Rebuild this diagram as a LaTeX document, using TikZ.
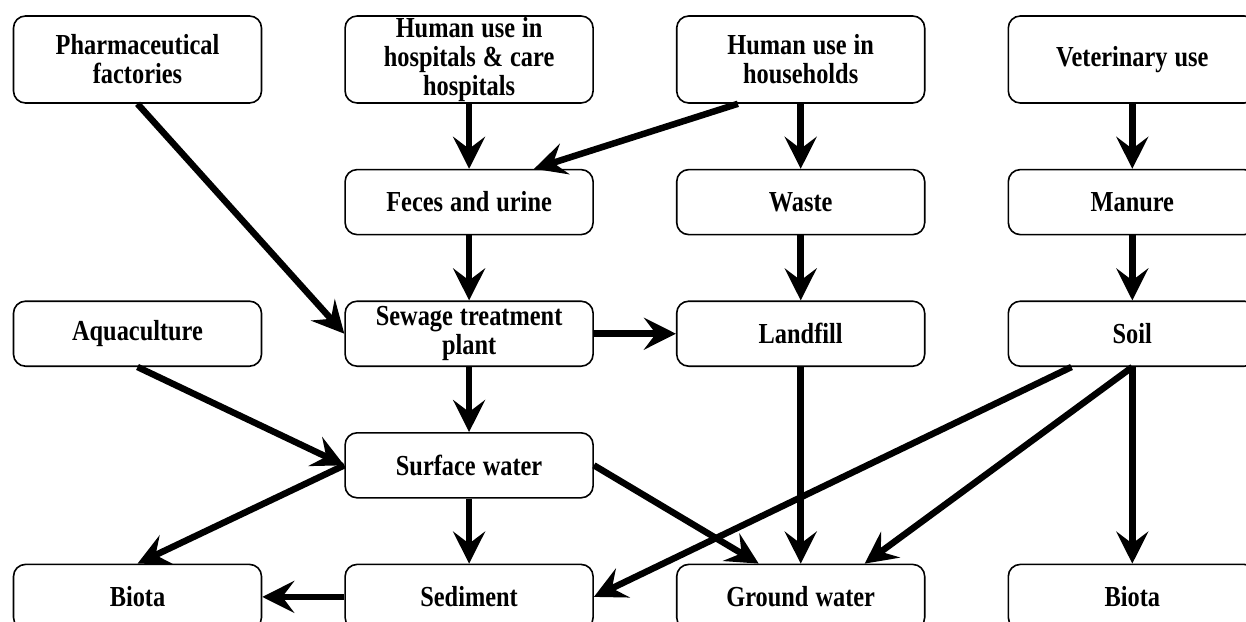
\documentclass[tikz,border=0pt]{standalone}
\usepackage{fontspec}
\setmainfont{Liberation Serif}[FakeStretch=0.84]
\usetikzlibrary{arrows.meta, positioning}

\begin{document}
\begin{tikzpicture}[x=1pt, y=-1pt, font=\fontsize{29}{29}\selectfont\bfseries,
		node distance=65pt and 82pt,
		box/.style={draw, line width=1.6pt, rounded corners=12pt,
		            text width=240pt, inner xsep=4pt, inner ysep=1pt,
		            minimum height=65pt, align=center,
		            execute at begin node={\spaceskip=7pt\relax}},
		topbox/.style={box, minimum height=87pt},
		arr/.style={-{Stealth[length=32pt, width=32pt, inset=12pt]}, line width=6.5pt}]
		\useasboundingbox (0,0) rectangle (1246,621);
		% sources
		\node[topbox] (pharma) at (137.5,59.5) {Pharmaceutical\\factories};
		\node[topbox, right=of pharma] (hosp) {Human use in\\hospitals \& care\\hospitals};
		\node[topbox, right=of hosp] (house) {Human use in\\households};
		\node[topbox, right=of house] (vet) {Veterinary use};
		% intermediate
		\node[box, below=of hosp] (feces) {Feces and urine};
		\node[box, below=of house] (waste) {Waste};
		\node[box, below=of vet] (manure) {Manure};
		\node[box, below=of feces] (sewage) {Sewage treatment\\plant};
		\node[box, left=of sewage] (aqua) {Aquaculture};
		\node[box, below=of waste] (landfill) {Landfill};
		\node[box, below=of manure] (soil) {Soil};
		\node[box, below=of sewage] (surface) {Surface water};
		% sinks
		\node[box, below=of surface] (sediment) {Sediment};
		\node[box, left=of sediment] (biota) {Biota};
		\node[box, right=of sediment] (ground) {Ground water};
		\node[box, right=of ground] (biotb) {Biota};
		\draw[arr] (pharma.south) -- (sewage.west);
		\draw[arr] (hosp) -- (feces);
		\draw[arr] ([xshift=62pt]house.south west) -- ([xshift=65pt]feces.north);
		\draw[arr] (house) -- (waste);
		\draw[arr] (vet) -- (manure);
		\draw[arr] (feces) -- (sewage);
		\draw[arr] (waste) -- (landfill);
		\draw[arr] (manure) -- (soil);
		\draw[arr] (sewage) -- (landfill);
		\draw[arr] (sewage) -- (surface);
		\draw[arr] (aqua.south) -- (surface.west);
		\draw[arr] (surface.west) -- (biota.north);
		\draw[arr] (surface) -- (sediment);
		\draw[arr] (surface.east) -- ([xshift=-42pt]ground.north);
		\draw[arr] (sediment) -- (biota);
		\draw[arr] (landfill) -- (ground);
		\draw[arr] ([xshift=64pt]soil.south west) -- (sediment.east);
		\draw[arr] (soil.south) -- ([xshift=64pt]ground.north);
		\draw[arr] (soil) -- (biotb);
	\end{tikzpicture}
\end{document}
